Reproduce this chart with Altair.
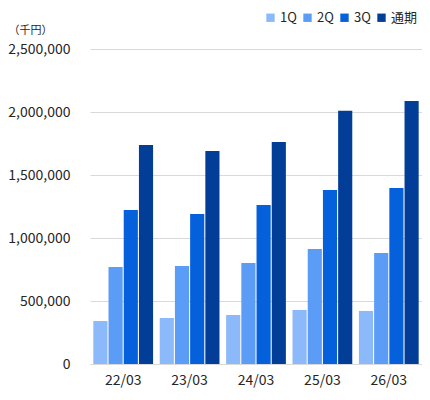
import altair as alt
import pandas as pd

years = ["22/03", "23/03", "24/03", "25/03", "26/03"]
series = ["1Q", "2Q", "3Q", "通期"]
q1 = [341000, 365000, 389000, 429000, 421000]
q2 = [770000, 778000, 802000, 913000, 881000]
q3 = [1222000, 1190000, 1262000, 1381000, 1397000]
fy = [1738000, 1690000, 1762000, 2010000, 2087000]
colors = ["#8CB9FA", "#5B9CF7", "#0560DC", "#023E98"]

rows = []
for s, vals in zip(series, [q1, q2, q3, fy]):
    for y, v in zip(years, vals):
        rows.append({"year": y, "series": s, "value": v})
df = pd.DataFrame(rows)

font = "Noto Sans CJK JP"

chart = alt.Chart(df).mark_bar().encode(
    x=alt.X("year:N", sort=years,
            scale=alt.Scale(paddingInner=0.1, paddingOuter=0.05),
            axis=alt.Axis(title=None, labelAngle=0, ticks=False, domain=True,
                          domainColor="#d9d9d9", labelPadding=9,
                          labelFontSize=14, labelColor="#262626", labelFont=font)),
    xOffset=alt.XOffset("series:N", sort=series,
                        scale=alt.Scale(paddingInner=0.07)),
    y=alt.Y("value:Q", scale=alt.Scale(domain=[0, 2500000]),
            axis=alt.Axis(values=[0, 500000, 1000000, 1500000, 2000000, 2500000],
                          format=",.0f", ticks=False, domain=False,
                          gridColor="#d9d9d9", labelPadding=20,
                          labelFontSize=14, labelColor="#262626", labelFont=font,
                          title="（千円）", titleAngle=0, titleX=-82, titleY=-14,
                          titleAlign="left", titleFontSize=11, titleFontWeight="normal",
                          titleColor="#262626", titleFont=font)),
    color=alt.Color("series:N", sort=series,
                    scale=alt.Scale(domain=series, range=colors),
                    legend=alt.Legend(title=None, orient="none", legendX=174, legendY=-38,
                                      direction="horizontal", columns=4,
                                      symbolType="square", symbolSize=70,
                                      symbolStrokeWidth=0, columnPadding=4,
                                      labelOffset=3,
                                      labelFontSize=13, labelColor="#262626",
                                      labelFont=font)),
).properties(
    width=332, height=315,
    autosize=alt.AutoSizeParams(type="none"),
    padding={"left": 82, "top": 41, "right": 0, "bottom": 26},
).configure_view(stroke=None)

chart.save("out.html", embed_options={"renderer": "svg", "actions": False})
